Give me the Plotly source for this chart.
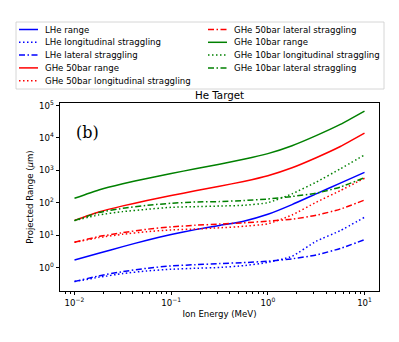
import plotly.graph_objects as go

# ion energy (MeV)
energy = [0.01, 0.0178, 0.0316, 0.0562, 0.1, 0.178, 0.316, 0.562, 1.0, 1.78, 3.16, 5.62, 10.0]

# projected range / straggling (um)
lhe_range = [1.76, 2.82, 4.53, 7.16, 10.7, 15.1, 20.4, 27.5, 44.7, 89.1, 191, 407, 871]
lhe_long = [0.380, 0.516, 0.670, 0.809, 0.910, 0.977, 1.035, 1.175, 1.48, 2.29, 6.61, 14.1, 36.3]
lhe_lat = [0.380, 0.568, 0.771, 0.977, 1.153, 1.259, 1.358, 1.459, 1.603, 1.905, 2.51, 3.98, 7.41]

ghe50_range = [29.1, 52.5, 81.3, 119, 169, 236, 327, 460, 689, 1211, 2472, 5470, 14060]
ghe50_long = [6.17, 8.57, 10.9, 13.1, 14.8, 15.8, 17.2, 19.1, 22.9, 42.7, 105, 240, 575]
ghe50_lat = [6.17, 9.20, 12.2, 15.5, 18.3, 20.6, 22.4, 24.5, 27.5, 31.6, 41.7, 64.6, 123]

ghe10_range = [139, 251, 389, 569, 807, 1127, 1567, 2203, 3296, 5794, 11830, 26180, 67300]
ghe10_long = [28.6, 42.8, 54.1, 63.8, 73.6, 77.1, 80.4, 84.7, 102, 191, 437, 1122, 3020]
ghe10_lat = [28.6, 50.5, 68.5, 84.7, 97.7, 107, 110, 119, 132, 158, 200, 309, 603]

x_tickvals = [0.01, 0.1, 1, 10]
x_ticktext = ['10<sup>−2</sup>', '10<sup>−1</sup>', '10<sup>0</sup>', '10<sup>1</sup>']
y_tickvals = [1, 10, 100, 1e3, 1e4, 1e5]
y_ticktext = ['10<sup>0</sup>', '10<sup>1</sup>', '10<sup>2</sup>', '10<sup>3</sup>',
              '10<sup>4</sup>', '10<sup>5</sup>']

SOLID = 'solid'
DOT = '1.5px,2.5px'
DASHDOT = '6px,2.5px,1.5px,2.5px'

series = [
    ('LHe range', lhe_range, '#0000ff', SOLID),
    ('LHe longitudinal straggling', lhe_long, '#0000ff', DOT),
    ('LHe lateral straggling', lhe_lat, '#0000ff', DASHDOT),
    ('GHe 50bar range', ghe50_range, '#ff0000', SOLID),
    ('GHe 50bar longitudinal straggling', ghe50_long, '#ff0000', DOT),
    ('GHe 50bar lateral straggling', ghe50_lat, '#ff0000', DASHDOT),
    ('GHe 10bar range', ghe10_range, '#008000', SOLID),
    ('GHe 10bar longitudinal straggling', ghe10_long, '#008000', DOT),
    ('GHe 10bar lateral straggling', ghe10_lat, '#008000', DASHDOT),
]

W, H = 399, 342
L, R, T, B = 60, 379, 103, 291
FONT = 'DejaVu Sans'


def px_x(X):
    return (X - L) / (R - L)


def px_y(Y):
    return (B - Y) / (B - T)


fig = go.Figure()
for name, y, color, dash in series:
    fig.add_trace(go.Scatter(x=energy, y=y, mode='lines', name=name,
                             line=dict(color=color, width=1.5, dash=dash,
                                       shape='spline', smoothing=0.5)))

# legend drawn by hand so rows are as tight as matplotlib's
shapes = [dict(type='rect', xref='paper', yref='paper',
               x0=px_x(16), x1=px_x(384), y0=px_y(89), y1=px_y(22),
               line=dict(color='#cccccc', width=0.8), fillcolor='white', layer='above')]
annotations = []
for i, (name, y, color, dash) in enumerate(series):
    col, row = (0, i) if i < 5 else (1, i - 5)
    X0 = 19 if col == 0 else 208
    Yr = 29.5 + 12.8 * row
    shapes.append(dict(type='line', xref='paper', yref='paper',
                       x0=px_x(X0), x1=px_x(X0 + 19), y0=px_y(Yr), y1=px_y(Yr),
                       line=dict(color=color, width=1.5, dash=dash), layer='above'))
    annotations.append(dict(text=name, xref='paper', yref='paper',
                            x=px_x(X0 + 24), y=px_y(Yr), xanchor='left', yanchor='middle',
                            showarrow=False, font=dict(family=FONT, size=8.6, color='black')))

annotations.append(dict(text='(b)', xref='paper', yref='paper', x=px_x(74), y=px_y(132),
                        xanchor='left', yanchor='middle', showarrow=False,
                        font=dict(family='DejaVu Serif', size=16, color='black')))

axis_common = dict(showgrid=False, zeroline=False, showline=True, mirror=True,
                   linecolor='black', linewidth=0.8, ticks='outside', ticklen=3.5,
                   tickwidth=0.8, tickcolor='black',
                   tickfont=dict(family=FONT, size=8.6, color='black'))

fig.update_xaxes(type='log', range=[-2.15, 1.15], tickmode='array',
                 tickvals=x_tickvals, ticktext=x_ticktext,
                 minor=dict(ticks='outside', ticklen=2, tickwidth=0.6,
                            tickcolor='black', dtick='D1', showgrid=False),
                 title=dict(text='Ion Energy (MeV)', standoff=4,
                            font=dict(family=FONT, size=8.6, color='black')),
                 **axis_common)
fig.update_yaxes(type='log', range=[-0.71, 5.077], tickmode='array',
                 tickvals=y_tickvals, ticktext=y_ticktext,
                 title=dict(text='Projected Range (<i>μ</i>m)', standoff=4,
                            font=dict(family=FONT, size=8.6, color='black')),
                 **axis_common)

fig.update_layout(
    width=W, height=H,
    margin=dict(l=L, r=W - R, t=T, b=H - B),
    paper_bgcolor='white', plot_bgcolor='white',
    showlegend=False,
    title=dict(text='He Target', x=(L + R) / 2 / W, xanchor='center',
               y=1 - 95 / H, yanchor='middle', yref='container',
               font=dict(family=FONT, size=10.3, color='black')),
    shapes=shapes,
    annotations=annotations,
)

# page body has a default 8px margin; drop it so the figure sits at the window corner
fig.write_html('out.html', config={'displayModeBar': False},
               post_script="document.body.style.margin='0';")
